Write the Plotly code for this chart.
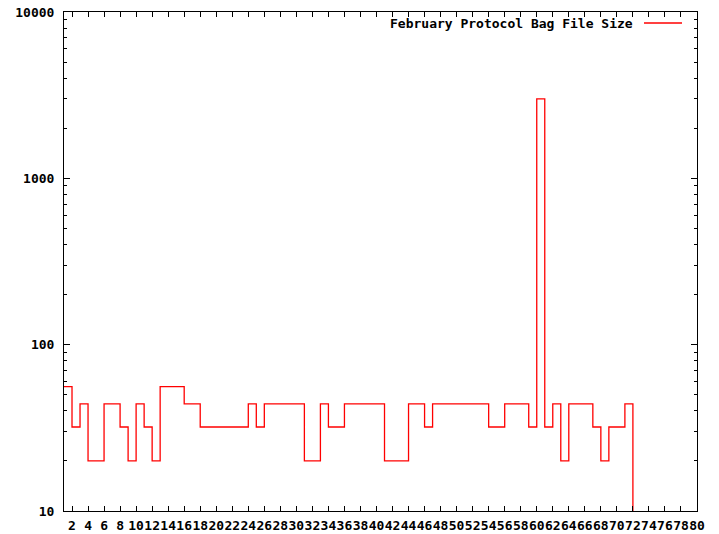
import plotly.graph_objects as go

# Daily bag file sizes for February (day of month index -> size)
days = list(range(1, 73))
sizes = [
    56, 32, 44, 20, 20, 44, 44, 32, 20, 44,
    32, 20, 56, 56, 56, 44, 44, 32, 32, 32,
    32, 32, 32, 44, 32, 44, 44, 44, 44, 44,
    20, 20, 44, 32, 32, 44, 44, 44, 44, 44,
    20, 20, 20, 44, 44, 32, 44, 44, 44, 44,
    44, 44, 44, 32, 32, 44, 44, 44, 32, 3000,
    32, 44, 20, 44, 44, 44, 32, 20, 32, 32,
    44, 4,
]
series_name = "February Protocol Bag File Size"

x_ticks = list(range(2, 81, 2))
y_ticks = [10, 100, 1000, 10000]
y_minor = [m * 10 ** k for k in range(1, 4) for m in range(2, 10)]

FONT = dict(family="DejaVu Sans Mono", size=13, color="black", weight="bold")

fig = go.Figure()
fig.add_trace(go.Scatter(
    x=days, y=sizes, mode="lines", line_shape="hv",
    line=dict(color="#ff0000", width=1.3),
    name=series_name, showlegend=False,
))

axis_common = dict(
    showline=True, linecolor="black", linewidth=1,
    mirror="ticks", ticks="inside", tickcolor="black", tickwidth=1,
    showgrid=False, zeroline=False, tickfont=FONT, tickangle=0,
    automargin=False,
)

fig.update_layout(
    width=719, height=534,
    margin=dict(l=64, r=22, t=12, b=23),
    paper_bgcolor="white", plot_bgcolor="white",
    xaxis=dict(range=[1, 80], tickmode="array", tickvals=x_ticks,
               ticktext=[str(v) for v in x_ticks], ticklen=5,
               ticklabelstandoff=2, **axis_common),
    yaxis=dict(type="log", range=[1, 4], tickmode="array", tickvals=y_ticks,
               ticktext=[str(v) for v in y_ticks], ticklen=6,
               ticklabelstandoff=6,
               minor=dict(tickmode="array", tickvals=y_minor, ticks="inside",
                          ticklen=3, tickcolor="black", tickwidth=1,
                          showgrid=False),
               **axis_common),
    showlegend=False,
)

# Key: title text with a line sample to its right, in the top-right corner
key_y = 1 - (23 - 12) / (534 - 12 - 23)
fig.add_annotation(
    xref="paper", yref="paper", x=(635 - 64) / (719 - 64 - 22),
    y=key_y, xanchor="right", yanchor="middle",
    text=series_name, showarrow=False, font=FONT,
)
fig.add_shape(
    type="line", xref="paper", yref="paper",
    x0=(644 - 64) / (719 - 64 - 22), x1=(682 - 64) / (719 - 64 - 22),
    y0=key_y, y1=key_y,
    line=dict(color="#ff0000", width=1.3),
)

fig.write_html("out.html")
